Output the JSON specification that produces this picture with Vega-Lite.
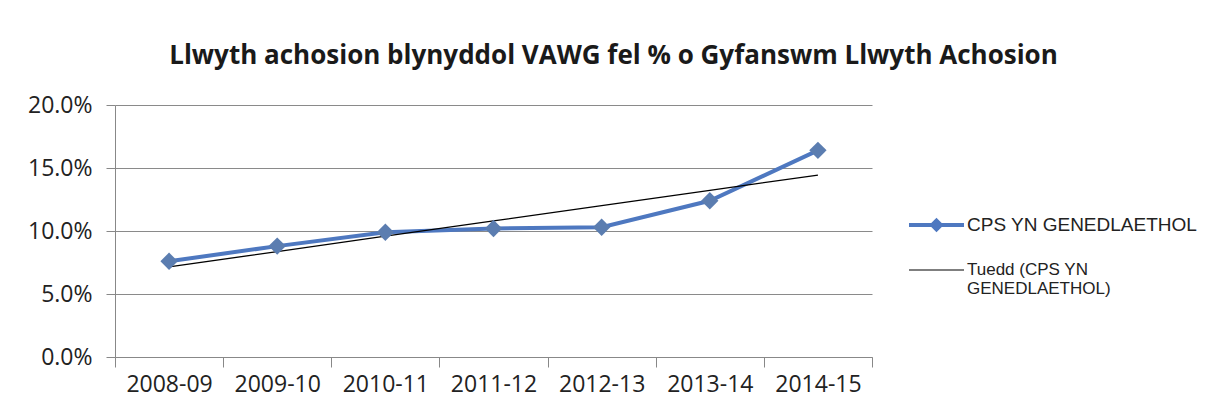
{
  "$schema": "https://vega.github.io/schema/vega-lite/v6.json",
  "width": 757,
  "height": 252,
  "autosize": {"type": "none"},
  "padding": {"left": 115, "top": 105, "right": 339, "bottom": 55},
  "background": "white",
  "title": {
    "text": "Llwyth achosion blynyddol VAWG fel % o Gyfanswm Llwyth Achosion",
    "font": "Open Sans",
    "fontSize": 26,
    "fontWeight": "bold",
    "color": "#1a1a1a",
    "anchor": "middle",
    "dx": 120,
    "offset": 25
  },
  "config": {
    "view": {"stroke": null},
    "font": "Open Sans"
  },
  "data": {
    "values": [
      {"period": "2008-09", "series": "CPS YN GENEDLAETHOL", "value": 0.076},
      {"period": "2009-10", "series": "CPS YN GENEDLAETHOL", "value": 0.088},
      {"period": "2010-11", "series": "CPS YN GENEDLAETHOL", "value": 0.099},
      {"period": "2011-12", "series": "CPS YN GENEDLAETHOL", "value": 0.102},
      {"period": "2012-13", "series": "CPS YN GENEDLAETHOL", "value": 0.103},
      {"period": "2013-14", "series": "CPS YN GENEDLAETHOL", "value": 0.124},
      {"period": "2014-15", "series": "CPS YN GENEDLAETHOL", "value": 0.164},
      {"period": "2008-09", "series": "Tuedd (CPS YN GENEDLAETHOL)", "value": 0.0716},
      {"period": "2009-10", "series": "Tuedd (CPS YN GENEDLAETHOL)", "value": 0.0837},
      {"period": "2010-11", "series": "Tuedd (CPS YN GENEDLAETHOL)", "value": 0.0959},
      {"period": "2011-12", "series": "Tuedd (CPS YN GENEDLAETHOL)", "value": 0.108},
      {"period": "2012-13", "series": "Tuedd (CPS YN GENEDLAETHOL)", "value": 0.1201},
      {"period": "2013-14", "series": "Tuedd (CPS YN GENEDLAETHOL)", "value": 0.1323},
      {"period": "2014-15", "series": "Tuedd (CPS YN GENEDLAETHOL)", "value": 0.1444}
    ]
  },
  "encoding": {
    "x": {
      "field": "period",
      "type": "ordinal",
      "scale": {"type": "band", "paddingInner": 0, "paddingOuter": 0},
      "axis": {
        "title": null,
        "labelAngle": 0,
        "labelFont": "Open Sans",
        "labelFontSize": 23,
        "labelColor": "#222222",
        "labelPadding": 6,
        "tickBand": "extent",
        "tickSize": 10,
        "tickColor": "#888888",
        "domainColor": "#888888",
        "grid": false
      }
    },
    "y": {
      "field": "value",
      "type": "quantitative",
      "scale": {"domain": [0, 0.2], "nice": false},
      "axis": {
        "title": null,
        "format": ".1%",
        "values": [0, 0.05, 0.1, 0.15, 0.2],
        "labelFont": "Open Sans",
        "labelFontSize": 23,
        "labelColor": "#222222",
        "labelPadding": 14,
        "tickSize": 9,
        "tickColor": "#888888",
        "domainColor": "#888888",
        "grid": true,
        "gridColor": "#8a8a8a",
        "gridWidth": 1
      }
    }
  },
  "layer": [
    {
      "mark": {"type": "line"},
      "encoding": {
        "color": {
          "field": "series",
          "type": "nominal",
          "scale": {
            "domain": ["CPS YN GENEDLAETHOL", "Tuedd (CPS YN GENEDLAETHOL)"],
            "range": ["#4E78C0", "#000000"]
          },
          "legend": {
            "title": null,
            "orient": "none",
            "legendX": 825,
            "legendY": 107,
            "symbolType": "stroke",
            "symbolSize": 484,
            "rowPadding": 20,
            "labelOffset": 1,
            "labelFont": "Liberation Sans",
            "labelFontSize": 15,
            "labelColor": "#222222",
            "labelLimit": 300,
            "labelExpr": "datum.label == 'Tuedd (CPS YN GENEDLAETHOL)' ? ['Tuedd (CPS YN', 'GENEDLAETHOL)'] : datum.label",
            "encode": {
              "symbols": {
                "update": {
                  "shape": {"signal": "datum.value === 'CPS YN GENEDLAETHOL' ? 'M-4,0H1M-1.5,-0.4L-1.1,0L-1.5,0.4L-1.9,0Z' : 'M-4,0H1'"},
                  "strokeWidth": {"signal": "datum.value === 'CPS YN GENEDLAETHOL' ? 4 : 1"},
                  "fill": {"signal": "datum.value === 'CPS YN GENEDLAETHOL' ? '#5A7EB6' : 'transparent'"}
                }
              },
              "labels": {
                "update": {
                  "fontSize": {"signal": "datum.value === 'CPS YN GENEDLAETHOL' ? 19 : 17"}
                }
              }
            }
          }
        },
        "strokeWidth": {
          "field": "series",
          "type": "nominal",
          "scale": {
            "domain": ["CPS YN GENEDLAETHOL", "Tuedd (CPS YN GENEDLAETHOL)"],
            "range": [4, 1.2]
          },
          "legend": null
        }
      }
    },
    {
      "transform": [{"filter": "datum.series === 'CPS YN GENEDLAETHOL'"}],
      "mark": {"type": "point", "shape": "diamond", "filled": true, "size": 300, "color": "#5B7DB0", "opacity": 1}
    }
  ]
}
